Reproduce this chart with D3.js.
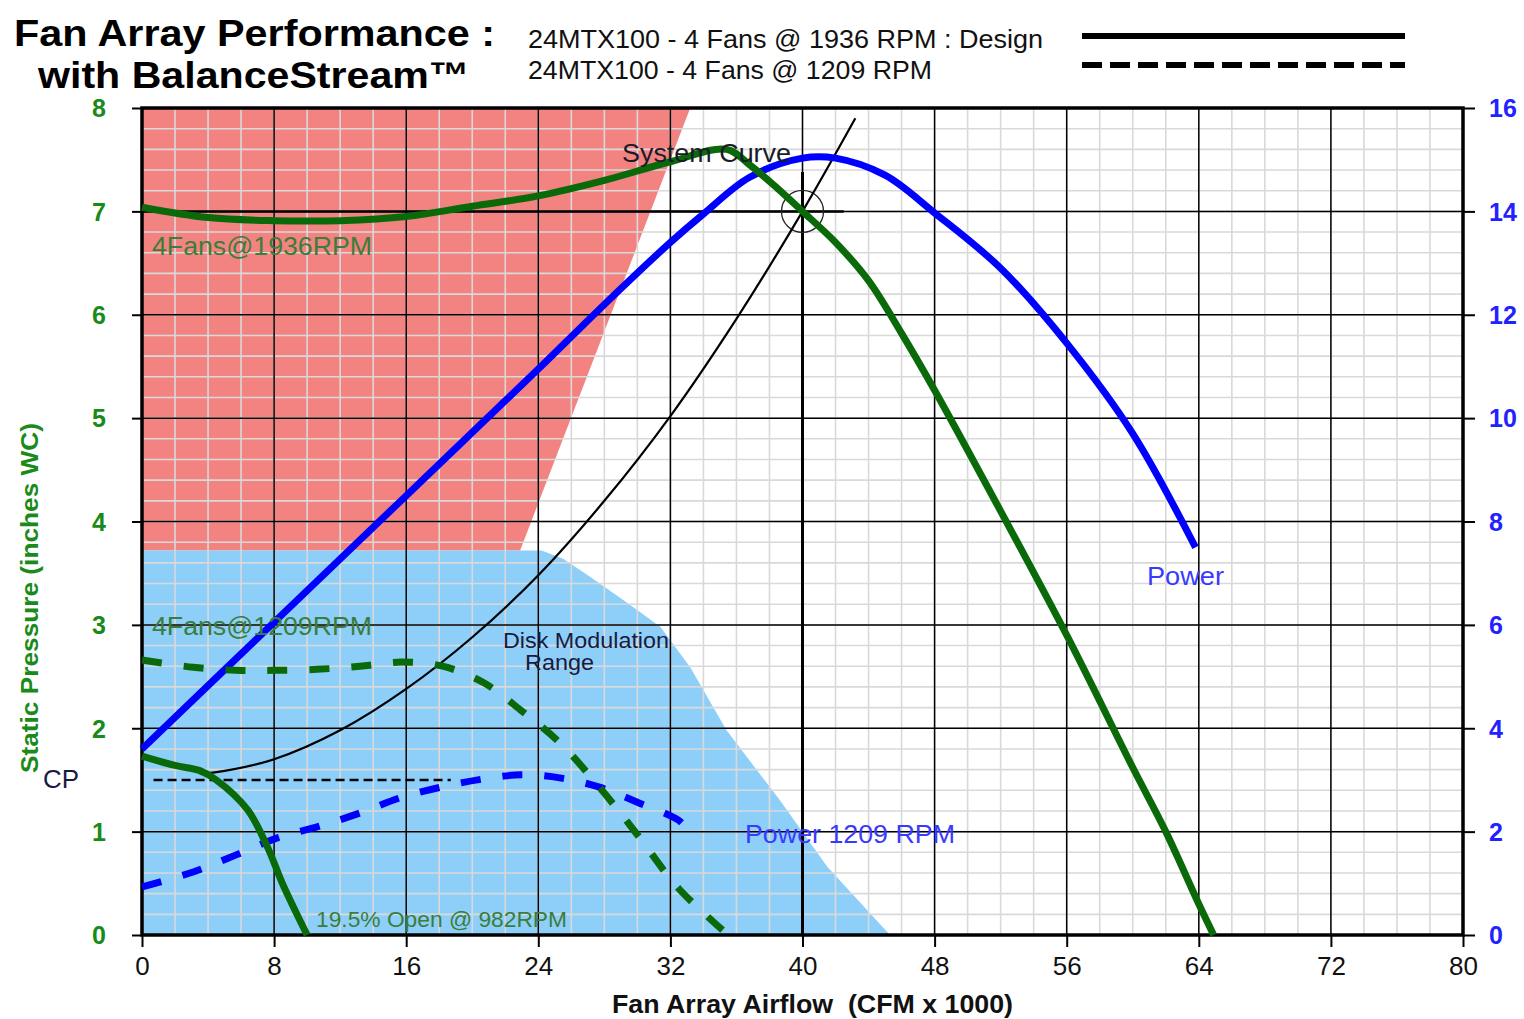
<!DOCTYPE html>
<html>
<head>
<meta charset="utf-8">
<script src="https://cdn.jsdelivr.net/npm/d3@7"></script>
<style>
  body { margin: 0; background: #fff; }
  text { font-family: "Liberation Sans", Arial, sans-serif; }
</style>
</head>
<body>
<svg id="chart" width="1524" height="1019"></svg>
<script>
// airflow in CFM x 1000, pressure in inches WC, power on right axis (0-16)
var fan1936 = [[0,7.04],[4,6.94],[8,6.91],[12,6.91],[16,6.95],[20,7.05],[24,7.15],[28,7.3],[32,7.48],[35.4,7.6],[36.8,7.45],[38.5,7.22],[40,7.0],[42,6.7],[44,6.33],[46,5.82],[48,5.27],[52,4.1],[56,2.9],[60,1.62],[62,1.0],[64,0.3],[64.9,0]];
var fan1209 = [[0,2.66],[3.1,2.59],[5.7,2.56],[7.9,2.56],[10.6,2.57],[13.2,2.6],[15.7,2.64],[18.2,2.6],[20.7,2.44],[22.9,2.18],[25.3,1.86],[27.7,1.43],[30,0.97],[32.5,0.45],[35.5,0]];
var fan982 = [[0,1.73],[2,1.64],[3.5,1.59],[4.5,1.5],[6.4,1.21],[7.6,0.85],[8.5,0.5],[10,0]];
var power1936 = [[0,3.6],[8,6.05],[16,8.5],[24,10.95],[28,12.2],[32,13.4],[34,13.95],[36.8,14.66],[40,15.03],[42,15.03],[45,14.7],[48,13.97],[52,12.9],[56,11.45],[60,9.7],[63.8,7.5]];
var power1209 = [[0,0.93],[3.1,1.22],[5.7,1.55],[8.2,1.88],[10.7,2.1],[13.2,2.36],[15.6,2.65],[18.1,2.86],[20.7,3.02],[23,3.1],[25.3,3.04],[27.7,2.86],[30,2.57],[32.5,2.22],[33,2.05]];
var systemCurve = [[3.5,1.56],[4.3,1.57],[8,1.7],[12,1.98],[16,2.38],[20,2.88],[24,3.48],[28,4.2],[32,5.02],[36,5.96],[40,7.0],[43.2,7.9]];
var cpLine = [[0.7,1.5],[18.7,1.5]];
var designLineH = [[0,7],[42.5,7]];
var designLineV = [[40,0],[40,7.38]];
var designPoint = [40,7];
var redZone = [[0,3.72],[0,8],[33.2,8],[22.9,3.72]];
var blueZone = [[0,0],[0,3.72],[24.2,3.72],[25.5,3.64],[27,3.48],[28.8,3.28],[30.2,3.12],[31.4,2.98],[33.2,2.59],[35.4,1.98],[38.6,1.31],[41.5,0.66],[45.3,0]];
var xTicks = [0,8,16,24,32,40,48,56,64,72,80];
var yTicks = [0,1,2,3,4,5,6,7,8];
var y2Ticks = [0,2,4,6,8,10,12,14,16];
var legendLabels = ["24MTX100 - 4 Fans @ 1936 RPM : Design", "24MTX100 - 4 Fans @ 1209 RPM"];

var svg = d3.select("#chart");
var x = d3.scaleLinear().domain([0, 80]).range([142, 1463]);
var y = d3.scaleLinear().domain([0, 8]).range([935, 108]);
var y2 = d3.scaleLinear().domain([0, 16]).range([935, 108]);

var green = "#0a6a0a", blue = "#0000ff";

// shaded zones
var poly = d3.line().x(function(d) { return x(d[0]); }).y(function(d) { return y(d[1]); });
svg.append("path").attr("d", poly(redZone) + "Z").attr("fill", "#f38380");
svg.append("path").attr("d", poly(blueZone) + "Z").attr("fill", "#8dcff8");

// minor grid
var grid = svg.append("g");
grid.selectAll(".vx").data(d3.range(0, 81, 2)).enter().append("line")
  .attr("x1", function(d) { return x(d); }).attr("x2", function(d) { return x(d); })
  .attr("y1", y(0)).attr("y2", y(8))
  .attr("stroke", "#d9d9d9").attr("stroke-width", 1.6);
grid.selectAll(".hy").data(d3.range(0, 40).map(function(i) { return i * 0.2; })).enter().append("line")
  .attr("y1", function(d) { return y(d); }).attr("y2", function(d) { return y(d); })
  .attr("x1", x(0)).attr("x2", x(80))
  .attr("stroke", "#d9d9d9").attr("stroke-width", 1.6);

// major grid
grid.selectAll(".mx").data(xTicks).enter().append("line")
  .attr("x1", function(d) { return x(d); }).attr("x2", function(d) { return x(d); })
  .attr("y1", y(0)).attr("y2", y(8))
  .attr("stroke", "#000").attr("stroke-width", 1.5);
grid.selectAll(".my").data(yTicks).enter().append("line")
  .attr("y1", function(d) { return y(d); }).attr("y2", function(d) { return y(d); })
  .attr("x1", x(0)).attr("x2", x(80))
  .attr("stroke", "#000").attr("stroke-width", 1.5);

// axes
var xAxis = svg.append("g").attr("transform", "translate(0," + y(0) + ")")
  .call(d3.axisBottom(x).tickValues(xTicks).tickSize(12).tickPadding(10));
var yAxis = svg.append("g").attr("transform", "translate(" + x(0) + ",0)")
  .call(d3.axisLeft(y).tickValues(yTicks).tickSize(10).tickPadding(26));
var y2Axis = svg.append("g").attr("transform", "translate(" + x(80) + ",0)")
  .call(d3.axisRight(y2).tickValues(y2Ticks).tickSize(12).tickPadding(14));
[xAxis, yAxis, y2Axis].forEach(function(a) {
  a.select(".domain").remove();
  a.selectAll(".tick line").attr("stroke", "#000").attr("stroke-width", 2);
  a.selectAll(".tick text").style("font-size", "25px");
});
xAxis.selectAll(".tick text").attr("fill", "#111").style("font-size", "26px");
yAxis.selectAll(".tick text").attr("fill", "#1a8a1a").style("font-weight", "bold").attr("dy", "0.35em");
y2Axis.selectAll(".tick text").attr("fill", "#2222ff").style("font-weight", "bold").attr("dy", "0.35em");

// frame
svg.append("rect").attr("x", x(0)).attr("y", y(8))
  .attr("width", x(80) - x(0)).attr("height", y(0) - y(8))
  .attr("fill", "none").attr("stroke", "#000").attr("stroke-width", 3.5);

var smooth = d3.curveCatmullRom.alpha(0.5);
var line = d3.line().x(function(d) { return x(d[0]); }).y(function(d) { return y(d[1]); }).curve(smooth);
var line2 = d3.line().x(function(d) { return x(d[0]); }).y(function(d) { return y2(d[1]); }).curve(smooth);
var straight = d3.line().x(function(d) { return x(d[0]); }).y(function(d) { return y(d[1]); });

// design point lines
svg.append("path").attr("d", straight(designLineH)).attr("stroke", "#000").attr("stroke-width", 2.5).attr("fill", "none");
svg.append("path").attr("d", straight(designLineV)).attr("stroke", "#000").attr("stroke-width", 3).attr("fill", "none");
svg.append("circle").attr("cx", x(designPoint[0])).attr("cy", y(designPoint[1])).attr("r", 21)
  .attr("fill", "none").attr("stroke", "#222").attr("stroke-width", 1.3);

// CP dashed
svg.append("path").attr("d", straight(cpLine)).attr("stroke", "#000").attr("stroke-width", 2.5)
  .attr("stroke-dasharray", "9,5").attr("fill", "none");

// system curve
svg.append("path").attr("d", line(systemCurve)).attr("stroke", "#000").attr("stroke-width", 2.2).attr("fill", "none");

// power curves
svg.append("path").attr("d", line2(power1209)).attr("stroke", blue).attr("stroke-width", 7)
  .attr("stroke-dasharray", "20,22").attr("fill", "none");
svg.append("path").attr("d", line2(power1936)).attr("stroke", blue).attr("stroke-width", 7).attr("fill", "none");

// fan curves
svg.append("path").attr("d", line(fan1209)).attr("stroke", green).attr("stroke-width", 7)
  .attr("stroke-dasharray", "20,22").attr("fill", "none");
svg.append("path").attr("d", line(fan982)).attr("stroke", green).attr("stroke-width", 7).attr("fill", "none");
svg.append("path").attr("d", line(fan1936)).attr("stroke", green).attr("stroke-width", 7).attr("fill", "none");

// annotations
function note(t, px, py, size, color, len, anchor) {
  svg.append("text").text(t).attr("x", px).attr("y", py)
    .attr("text-anchor", anchor || "start")
    .attr("textLength", len).attr("lengthAdjust", "spacingAndGlyphs")
    .style("font-size", size + "px").attr("fill", color);
}
note("4Fans@1936RPM", 152, 255, 26, "#3b7d3b", 220);
note("4Fans@1209RPM", 152, 635, 26, "#3b7d3b", 220);
note("System Curve", 622, 162, 26, "#1a1a2a", 169);
note("Disk Modulation", 503, 648, 22, "#1a1a40", 166);
note("Range", 525, 670, 22, "#1a1a40", 69);
note("Power", 1147, 585, 26, "#3a3aff", 77);
note("Power 1209 RPM", 745, 843, 26, "#3a3aff", 210);
note("19.5% Open @ 982RPM", 316, 927, 22, "#3b7d3b", 251);
note("CP", 43, 788, 26, "#1a1a40", 36);

// title
svg.append("text").text("Fan Array Performance :").attr("x", 14).attr("y", 46)
  .attr("textLength", 481).attr("lengthAdjust", "spacingAndGlyphs")
  .style("font-size", "37px").style("font-weight", "bold").attr("fill", "#000");
svg.append("text").text("with BalanceStream\u2122").attr("x", 38).attr("y", 88)
  .attr("textLength", 432).attr("lengthAdjust", "spacingAndGlyphs")
  .style("font-size", "37px").style("font-weight", "bold").attr("fill", "#000");

// legend
var legendLen = [515, 404];
legendLabels.forEach(function(t, i) {
  svg.append("text").text(t).attr("x", 528).attr("y", 48 + i * 31)
    .attr("textLength", legendLen[i]).attr("lengthAdjust", "spacingAndGlyphs")
    .style("font-size", "25px").attr("fill", "#111");
});
svg.append("line").attr("x1", 1082).attr("x2", 1405).attr("y1", 36).attr("y2", 36)
  .attr("stroke", "#000").attr("stroke-width", 6);
svg.append("line").attr("x1", 1082).attr("x2", 1405).attr("y1", 65).attr("y2", 65)
  .attr("stroke", "#000").attr("stroke-width", 6).attr("stroke-dasharray", "20,8");

// axis titles
svg.append("text").text("Fan Array Airflow  (CFM x 1000)").attr("x", 612).attr("y", 1013)
  .attr("textLength", 401).attr("lengthAdjust", "spacingAndGlyphs")
  .style("font-size", "25px").style("font-weight", "bold")
  .style("white-space", "pre").attr("fill", "#111");
svg.append("text").text("Static Pressure (inches WC)")
  .attr("transform", "translate(38,773) rotate(-90)")
  .attr("textLength", 350).attr("lengthAdjust", "spacingAndGlyphs")
  .style("font-size", "24px").style("font-weight", "bold")
  .attr("fill", "#1a8a1a");
</script>
</body>
</html>
